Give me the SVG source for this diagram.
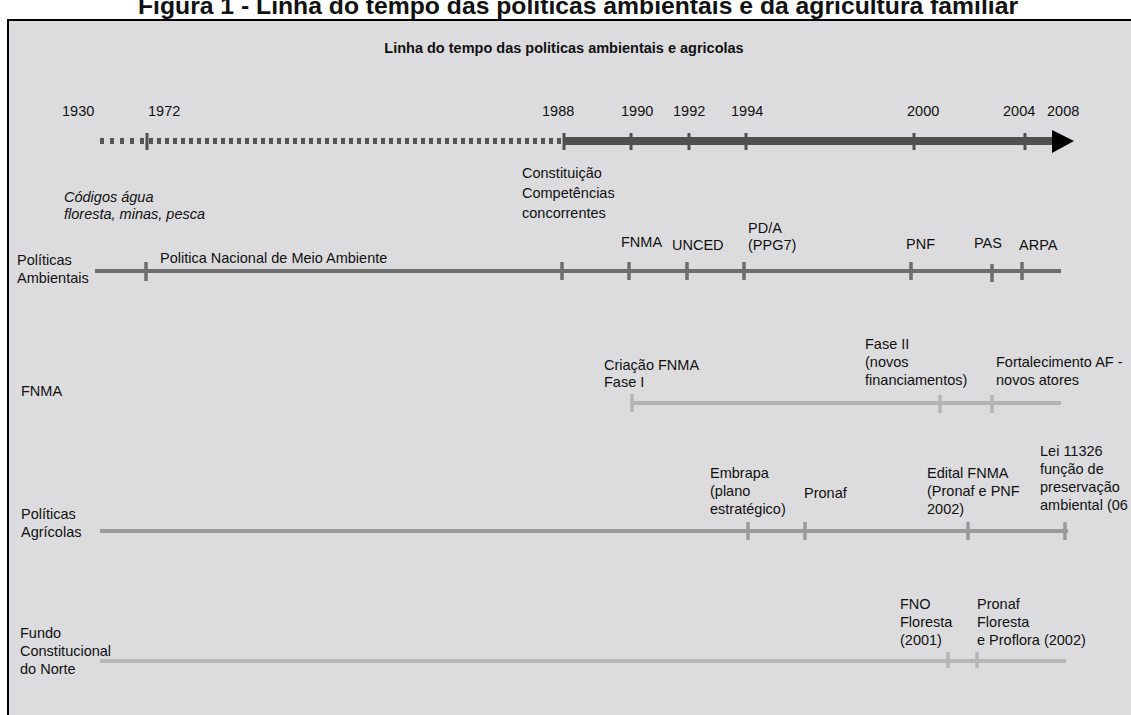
<svg xmlns="http://www.w3.org/2000/svg" width="1131" height="715" viewBox="0 0 1131 715">
<style>
text{font-family:"Liberation Sans",Arial,sans-serif;fill:#111;font-size:14.5px}
.t{font-weight:bold}
.ti{font-size:24px}
.it{font-style:italic}
.tk{stroke-width:3.5}
</style>
<rect x="0" y="0" width="1131" height="715" fill="#ffffff"/>
<text class="t ti" x="578" y="14" text-anchor="middle" textLength="880" lengthAdjust="spacingAndGlyphs">Figura 1 - Linha do tempo das políticas ambientais e da agricultura familiar</text>
<rect x="8" y="20" width="1140" height="710" fill="#dcdcde" stroke="#000" stroke-width="2"/>
<text class="t" x="564" y="53" text-anchor="middle">Linha do tempo das politicas ambientais e agricolas</text>

<g id="years">
<text x="62" y="116">1930</text>
<text x="148" y="116">1972</text>
<text x="542" y="116">1988</text>
<text x="621" y="116">1990</text>
<text x="673" y="116">1992</text>
<text x="731" y="116">1994</text>
<text x="907" y="116">2000</text>
<text x="1003" y="116">2004</text>
<text x="1047" y="116">2008</text>
</g>

<g id="connectors">
<g id="main-timeline">
<line x1="100" y1="141" x2="145" y2="141" stroke="#555" stroke-width="6" stroke-dasharray="4 6"/>
<line x1="149" y1="141" x2="561" y2="141" stroke="#555" stroke-width="6" stroke-dasharray="4 4"/>
<line x1="563" y1="141" x2="1054" y2="141" stroke="#505050" stroke-width="8"/>
<polygon points="1052,130 1074,141 1052,153" fill="#000"/>
<g stroke="#505050" stroke-width="3">
<line x1="147" y1="133" x2="147" y2="150"/>
<line x1="564" y1="133" x2="564" y2="150"/>
<line x1="631" y1="133" x2="631" y2="150"/>
<line x1="689" y1="133" x2="689" y2="150"/>
<line x1="746" y1="133" x2="746" y2="150"/>
<line x1="914" y1="133" x2="914" y2="150"/>
<line x1="1025" y1="133" x2="1025" y2="150"/>
</g>
</g>
<g id="amb-line" stroke="#6e6e6e">
<line x1="95" y1="271" x2="1061" y2="271" stroke-width="4"/>
<g class="tk">
<line x1="146" y1="262" x2="146" y2="281"/>
<line x1="562" y1="262" x2="562" y2="280"/>
<line x1="629" y1="262" x2="629" y2="280"/>
<line x1="687" y1="262" x2="687" y2="280"/>
<line x1="744" y1="262" x2="744" y2="280"/>
<line x1="911" y1="262" x2="911" y2="280"/>
<line x1="992" y1="264" x2="992" y2="282"/>
<line x1="1022" y1="262" x2="1022" y2="280"/>
</g>
</g>
<g id="fnma-line" stroke="#b4b4b4">
<line x1="631" y1="403" x2="1061" y2="403" stroke-width="4"/>
<g class="tk">
<line x1="632" y1="394" x2="632" y2="412"/>
<line x1="940" y1="395" x2="940" y2="413"/>
<line x1="992" y1="395" x2="992" y2="413"/>
</g>
</g>
<g id="agr-line" stroke="#9a9a9a">
<line x1="100" y1="531" x2="1068" y2="531" stroke-width="4"/>
<g class="tk">
<line x1="748" y1="522" x2="748" y2="540"/>
<line x1="805" y1="522" x2="805" y2="540"/>
<line x1="968" y1="522" x2="968" y2="540"/>
<line x1="1065" y1="522" x2="1065" y2="540"/>
</g>
</g>
<g id="fno-line" stroke="#b6b6b6">
<line x1="100" y1="661" x2="1066" y2="661" stroke-width="4"/>
<g class="tk">
<line x1="948" y1="652" x2="948" y2="668"/>
<line x1="977" y1="652" x2="977" y2="668"/>
</g>
</g>
</g>

<g id="codigos">
<text class="it" x="64" y="202">Códigos água</text>
<text class="it" x="64" y="219">floresta, minas, pesca</text>
</g>
<g id="constituicao">
<text x="522" y="178">Constituição</text>
<text x="522" y="198">Competências</text>
<text x="522" y="218">concorrentes</text>
</g>

<g id="row-ambientais">
<text x="17" y="265">Políticas</text>
<text x="17" y="283">Ambientais</text>
<text x="160" y="263">Politica Nacional de Meio Ambiente</text>
<text x="621" y="247">FNMA</text>
<text x="672" y="250">UNCED</text>
<text x="748" y="233">PD/A</text>
<text x="748" y="250">(PPG7)</text>
<text x="906" y="249">PNF</text>
<text x="974" y="248">PAS</text>
<text x="1019" y="250">ARPA</text>
</g>

<g id="row-fnma">
<text x="21" y="396">FNMA</text>
<text x="604" y="370">Criação FNMA</text>
<text x="604" y="387">Fase I</text>
<text x="865" y="349">Fase II</text>
<text x="865" y="367">(novos</text>
<text x="865" y="385">financiamentos)</text>
<text x="996" y="367">Fortalecimento AF -</text>
<text x="996" y="385">novos atores</text>
</g>

<g id="row-agricolas">
<text x="21" y="519">Políticas</text>
<text x="21" y="537">Agrícolas</text>
<text x="710" y="478">Embrapa</text>
<text x="710" y="496">(plano</text>
<text x="710" y="514">estratégico)</text>
<text x="804" y="498">Pronaf</text>
<text x="927" y="478">Edital FNMA</text>
<text x="927" y="496">(Pronaf e PNF</text>
<text x="927" y="514">2002)</text>
<text x="1040" y="456">Lei 11326</text>
<text x="1040" y="474">função de</text>
<text x="1040" y="492">preservação</text>
<text x="1040" y="510">ambiental (06</text>
</g>

<g id="row-fno">
<text x="20" y="638">Fundo</text>
<text x="20" y="656">Constitucional</text>
<text x="20" y="674">do Norte</text>
<text x="900" y="609">FNO</text>
<text x="900" y="627">Floresta</text>
<text x="900" y="645">(2001)</text>
<text x="977" y="609">Pronaf</text>
<text x="977" y="627">Floresta</text>
<text x="977" y="645">e Proflora (2002)</text>
</g>
</svg>
